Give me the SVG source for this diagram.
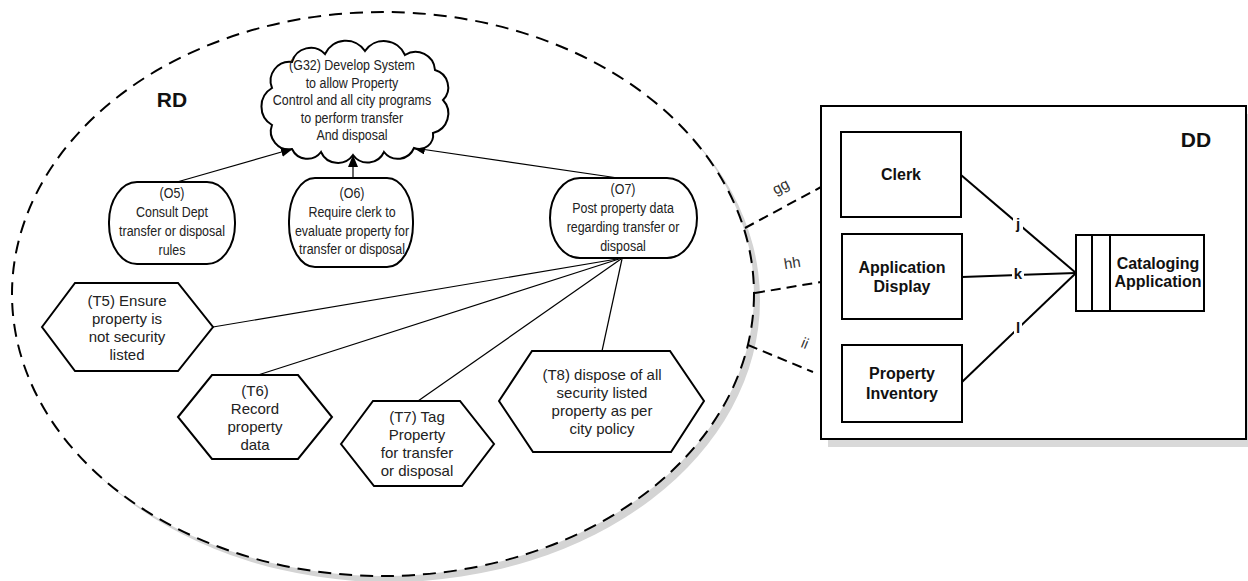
<svg xmlns="http://www.w3.org/2000/svg" width="1248" height="581" viewBox="0 0 1248 581">
<defs>
<marker id="arr" markerWidth="12" markerHeight="10" refX="11" refY="5" orient="auto" markerUnits="userSpaceOnUse"><path d="M0,0 L12,5 L0,10 z" fill="#000"/></marker>
</defs>
<style>
.shape{fill:#fff;stroke:#000;stroke-width:2}
.conn{stroke:#000;stroke-width:1.2;fill:none}
.dconn{stroke:#000;stroke-width:2;fill:none}
.dash{stroke:#000;stroke-width:2;stroke-dasharray:10 6;fill:none}
.t{font-family:"Liberation Sans",Arial,sans-serif;font-size:15px;fill:#222;text-anchor:middle}
.n{font-family:"Liberation Sans",Arial,sans-serif;font-size:15.2px;fill:#222;text-anchor:middle}
.b{font-family:"Liberation Sans",Arial,sans-serif;font-weight:bold;font-size:16px;fill:#111;text-anchor:middle}
.big{font-family:"Liberation Sans",Arial,sans-serif;font-weight:bold;font-size:21px;fill:#111;text-anchor:middle}
.lbl{font-family:"Liberation Sans",Arial,sans-serif;font-size:15px;fill:#333;text-anchor:middle}
.lb{font-family:"Liberation Sans",Arial,sans-serif;font-weight:bold;font-size:15px;fill:#111;text-anchor:middle}
</style>
<rect x="0" y="0" width="1248" height="581" fill="#fff"/>

<g id="rd-boundary">
<ellipse cx="389" cy="300" rx="371" ry="282" fill="#d4d4d4"/>
<ellipse cx="383" cy="294" rx="371" ry="282" fill="#fff" stroke="#000" stroke-width="2" stroke-dasharray="13 8"/>
<text class="big" x="172" y="107">RD</text>
</g>

<g id="dd-boundary">
<rect x="828" y="114" width="425" height="333" fill="#d9d9d9"/>
<rect x="821" y="106" width="425" height="333" class="shape"/>
<text class="big" x="1196" y="147">DD</text>
</g>

<g id="connectors">
<line class="conn" x1="177" y1="182" x2="292" y2="149" marker-end="url(#arr)"/>
<line class="conn" x1="353" y1="178" x2="353" y2="156" marker-end="url(#arr)"/>
<line class="conn" x1="618" y1="178" x2="414" y2="148" marker-end="url(#arr)"/>
<line class="conn" x1="617" y1="259" x2="213" y2="327"/>
<line class="conn" x1="619" y1="259" x2="258" y2="375"/>
<line class="conn" x1="621" y1="259" x2="418" y2="401"/>
<line class="conn" x1="622" y1="259" x2="602" y2="351"/>
<line class="dash" x1="745" y1="228" x2="821" y2="187"/>
<line class="dash" x1="755" y1="293" x2="821" y2="282"/>
<line class="dash" x1="748" y1="345" x2="813" y2="372"/>
<text class="lbl" transform="translate(783 191) rotate(-28)" x="0" y="0">gg</text>
<text class="lbl" transform="translate(793 268) rotate(-9)" x="0" y="0">hh</text>
<text class="lbl" transform="translate(803 348) rotate(22)" x="0" y="0">ii</text>
<line class="dconn" x1="961" y1="175" x2="1076" y2="273"/>
<line class="dconn" x1="962" y1="277" x2="1076" y2="273"/>
<line class="dconn" x1="962" y1="382" x2="1076" y2="273"/>
<rect x="1013" y="217" width="10" height="16" fill="#fff"/>
<text class="lb" x="1018" y="229">j</text>
<rect x="1012" y="267" width="12" height="13" fill="#fff"/>
<text class="lb" x="1018" y="279">k</text>
<rect x="1014" y="320" width="8" height="14" fill="#fff"/>
<text class="lb" x="1018" y="333">l</text>
</g>

<g id="G32">
<path class="shape" d="M443,100 A20,20 0 0 1 433,133 A14,14 0 0 1 414,148 A17.5,17.5 0 0 1 384,152 A18,18 0 0 1 353,155 A18.5,18.5 0 0 1 321,152 A17,17 0 0 1 292,149 A18,18 0 0 1 272,125 A21.5,21.5 0 0 1 272,88 A19,19 0 0 1 292,62 A19.5,19.5 0 0 1 325,54 A23,23 0 0 1 365,51 A23,23 0 0 1 405,55 A19.5,19.5 0 0 1 435,70 A18,18 0 0 1 443,100 Z"/>
<text class="n" transform="translate(352 0) scale(0.82 1)"><tspan x="0" y="70">(G32) Develop System</tspan><tspan x="0" y="88">to allow Property</tspan><tspan x="0" y="105">Control and all city programs</tspan><tspan x="0" y="123">to perform transfer</tspan><tspan x="0" y="140">And disposal</tspan></text>
</g>

<g id="O5">
<rect class="shape" x="109" y="182" width="126" height="82" rx="28" ry="40"/>
<text class="n" transform="translate(172 0) scale(0.82 1)"><tspan x="0" y="198">(O5)</tspan><tspan x="0" y="217">Consult Dept</tspan><tspan x="0" y="236">transfer or disposal</tspan><tspan x="0" y="255">rules</tspan></text>
</g>

<g id="O6">
<rect class="shape" x="289" y="178" width="124" height="89" rx="26" ry="43"/>
<text class="n" transform="translate(352 0) scale(0.82 1)"><tspan x="0" y="198">(O6)</tspan><tspan x="0" y="217">Require clerk to</tspan><tspan x="0" y="236">evaluate property for</tspan><tspan x="0" y="254">transfer or disposal</tspan></text>
</g>

<g id="O7">
<rect class="shape" x="550" y="178" width="147" height="80" rx="30" ry="40"/>
<text class="n" transform="translate(623 0) scale(0.82 1)"><tspan x="0" y="194">(O7)</tspan><tspan x="0" y="213">Post property data</tspan><tspan x="0" y="232">regarding transfer or</tspan><tspan x="0" y="251">disposal</tspan></text>
</g>

<g id="T5">
<polygon class="shape" points="42,327 75,283 178,283 213,327 178,371 75,371"/>
<text class="t"><tspan x="127" y="306">(T5) Ensure</tspan><tspan x="127" y="324">property is</tspan><tspan x="127" y="342">not security</tspan><tspan x="127" y="360">listed</tspan></text>
</g>

<g id="T6">
<polygon class="shape" points="178,417 212,375 298,375 332,417 298,459 212,459"/>
<text class="t"><tspan x="255" y="396">(T6)</tspan><tspan x="255" y="414">Record</tspan><tspan x="255" y="432">property</tspan><tspan x="255" y="450">data</tspan></text>
</g>

<g id="T7">
<polygon class="shape" points="341,444 373,401 460,401 494,444 462,486 374,486"/>
<text class="t"><tspan x="417" y="422">(T7) Tag</tspan><tspan x="417" y="440">Property</tspan><tspan x="417" y="458">for transfer</tspan><tspan x="417" y="476">or disposal</tspan></text>
</g>

<g id="T8">
<polygon class="shape" points="499,401 532,351 670,351 704,401 671,452 533,452"/>
<text class="t"><tspan x="602" y="380">(T8) dispose of all</tspan><tspan x="602" y="398">security listed</tspan><tspan x="602" y="416">property as per</tspan><tspan x="602" y="434">city policy</tspan></text>
</g>

<g id="Clerk">
<rect class="shape" x="841" y="132" width="120" height="85"/>
<text class="b" x="901" y="180">Clerk</text>
</g>

<g id="ApplicationDisplay">
<rect class="shape" x="842" y="234" width="120" height="85"/>
<text class="b"><tspan x="902" y="273">Application</tspan><tspan x="902" y="292">Display</tspan></text>
</g>

<g id="PropertyInventory">
<rect class="shape" x="842" y="345" width="120" height="77"/>
<text class="b"><tspan x="902" y="379">Property</tspan><tspan x="902" y="399">Inventory</tspan></text>
</g>

<g id="CatalogingApplication">
<rect class="shape" x="1076" y="235" width="128" height="76"/>
<line x1="1092" y1="235" x2="1092" y2="311" stroke="#000" stroke-width="2"/>
<line x1="1110" y1="235" x2="1110" y2="311" stroke="#000" stroke-width="2"/>
<text class="b"><tspan x="1158" y="269">Cataloging</tspan><tspan x="1158" y="287">Application</tspan></text>
</g>
</svg>
